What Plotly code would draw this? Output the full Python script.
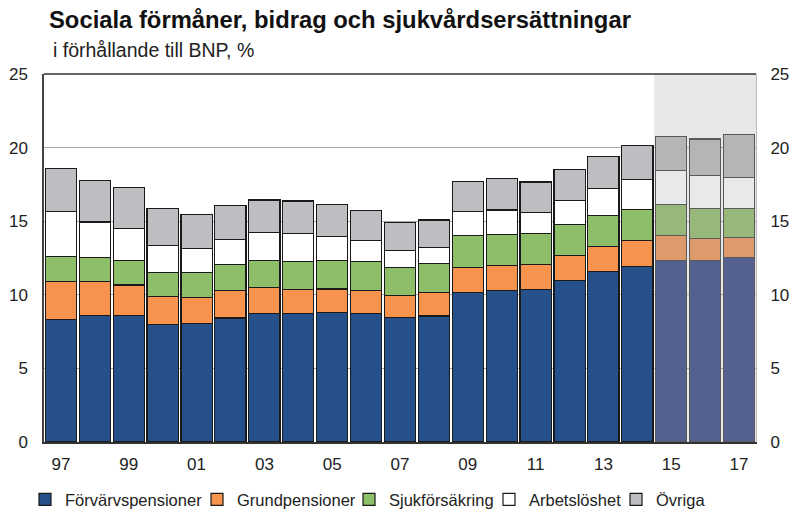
import plotly.graph_objects as go

# Years and stacked components (share of GDP, %)
years = list(range(1997, 2018))
forvarvspensioner = [8.31, 8.58, 8.58, 7.97, 8.04, 8.43, 8.72, 8.72, 8.79, 8.74, 8.45,
                     8.56, 10.13, 10.27, 10.35, 10.95, 11.56, 11.94, 12.31, 12.35, 12.53]
grundpensioner = [2.59, 2.30, 2.09, 1.89, 1.77, 1.84, 1.75, 1.65, 1.61, 1.57, 1.50,
                  1.61, 1.74, 1.72, 1.71, 1.72, 1.72, 1.73, 1.70, 1.48, 1.35]
sjukforsakring = [1.72, 1.63, 1.64, 1.63, 1.68, 1.77, 1.88, 1.91, 1.95, 1.93, 1.88,
                  1.93, 2.14, 2.13, 2.09, 2.13, 2.09, 2.11, 2.11, 2.02, 1.97]
arbetsloshet = [3.03, 2.43, 2.22, 1.88, 1.66, 1.74, 1.87, 1.87, 1.61, 1.45, 1.16,
                1.14, 1.64, 1.64, 1.43, 1.62, 1.84, 2.05, 2.32, 2.27, 2.11]
ovriga = [2.95, 2.82, 2.75, 2.50, 2.31, 2.28, 2.22, 2.22, 2.16, 2.03, 1.91,
          1.84, 2.04, 2.14, 2.08, 2.11, 2.20, 2.29, 2.32, 2.47, 2.91]

series_names = ["Förvärvspensioner", "Grundpensioner", "Sjukförsäkring", "Arbetslöshet", "Övriga"]
tick_years = list(range(1997, 2018, 2))
tick_labels = [f"{y % 100:02d}" for y in tick_years]
forecast_start = 2015

# Outcome colours and muted forecast colours
hist_colors = ["#25508A", "#F7934C", "#8CBF67", "#FFFFFF", "#BDBEC1"]
fc_colors = ["#546190", "#DE9A6B", "#98B77B", "#E8E9EB", "#B4B5B7"]

# Horizontal position of each legend entry (paper coordinates)
legend_x = [-0.0267, 0.2149, 0.4284, 0.6250, 0.8034]

font_family = "Liberation Sans, Arial, sans-serif"

fig = go.Figure()

series = [forvarvspensioner, grundpensioner, sjukforsakring, arbetsloshet, ovriga]
for i, (name, vals, hc, fc) in enumerate(zip(series_names, series, hist_colors, fc_colors)):
    colors = [fc if y >= forecast_start else hc for y in years]
    edges = ["#5A5A5A" if y >= forecast_start else "#1A1A1A" for y in years]
    fig.add_trace(go.Bar(
        x=years, y=vals, name=name,
        marker=dict(color=colors, line=dict(color=edges, width=1.2)),
        legend="legend" if i == 0 else f"legend{i + 1}",
    ))

# Invisible trace to carry the right-hand axis
fig.add_trace(go.Scatter(x=[years[0]], y=[0], yaxis="y2", mode="markers",
                         marker=dict(opacity=0), showlegend=False, hoverinfo="skip"))

# Shaded forecast period
fig.add_shape(type="rect", xref="x", yref="y", x0=forecast_start - 0.5, x1=years[-1] + 0.5,
              y0=0, y1=25, fillcolor="#E6E7E9", line=dict(width=0), layer="below")

legend_common = dict(
    orientation="h", xanchor="left", yref="container", y=0.024, yanchor="middle",
    font=dict(size=16.5, color="#222222", family=font_family), itemwidth=30,
    bgcolor="rgba(0,0,0,0)", borderwidth=0,
)
legends = {}
for i, lx in enumerate(legend_x):
    key = "legend" if i == 0 else f"legend{i + 1}"
    legends[key] = dict(legend_common, x=lx)

fig.update_layout(
    barmode="stack",
    bargap=0.08,
    width=792, height=512,
    margin=dict(l=44, r=36, t=74, b=70, autoexpand=False),
    plot_bgcolor="white",
    paper_bgcolor="white",
    font=dict(family=font_family, size=17, color="#222222"),
    xaxis=dict(
        range=[years[0] - 0.5, years[-1] + 0.5],
        tickvals=tick_years, ticktext=tick_labels,
        showgrid=False, zeroline=False,
        showline=True, linecolor="#333333", linewidth=1.5,
        ticks="", ticklabelstandoff=6,
        tickfont=dict(size=17),
    ),
    yaxis=dict(
        range=[0, 25], tickvals=[0, 5, 10, 15, 20, 25],
        showgrid=True, gridcolor="#A8A8A8", gridwidth=1,
        zeroline=False, showline=True, linecolor="#444444", linewidth=1.5,
        ticks="", ticklabelstandoff=11, tickfont=dict(size=17),
    ),
    yaxis2=dict(
        range=[0, 25], tickvals=[0, 5, 10, 15, 20, 25],
        overlaying="y", side="right", showgrid=False, zeroline=False,
        showline=True, linecolor="#BBBBBB", linewidth=1,
        ticks="", ticklabelstandoff=10, tickfont=dict(size=17),
    ),
    showlegend=True,
    **legends,
)

# Top border of plot area
fig.add_shape(type="line", xref="paper", yref="paper", x0=0, x1=1, y0=1, y1=1,
              line=dict(color="#333333", width=1.5))

fig.add_annotation(text="<b>Sociala förmåner, bidrag och sjukvårdsersättningar</b>",
                   xref="paper", yref="paper", x=0.004, y=1.0, yshift=38.5,
                   xanchor="left", yanchor="bottom", showarrow=False,
                   font=dict(size=23.8, color="#111111", family=font_family))
fig.add_annotation(text="i förhållande till BNP, %",
                   xref="paper", yref="paper", x=0.0094, y=1.0, yshift=10.5,
                   xanchor="left", yanchor="bottom", showarrow=False,
                   font=dict(size=19.5, color="#222222", family=font_family))

fig.write_html("out.html")
